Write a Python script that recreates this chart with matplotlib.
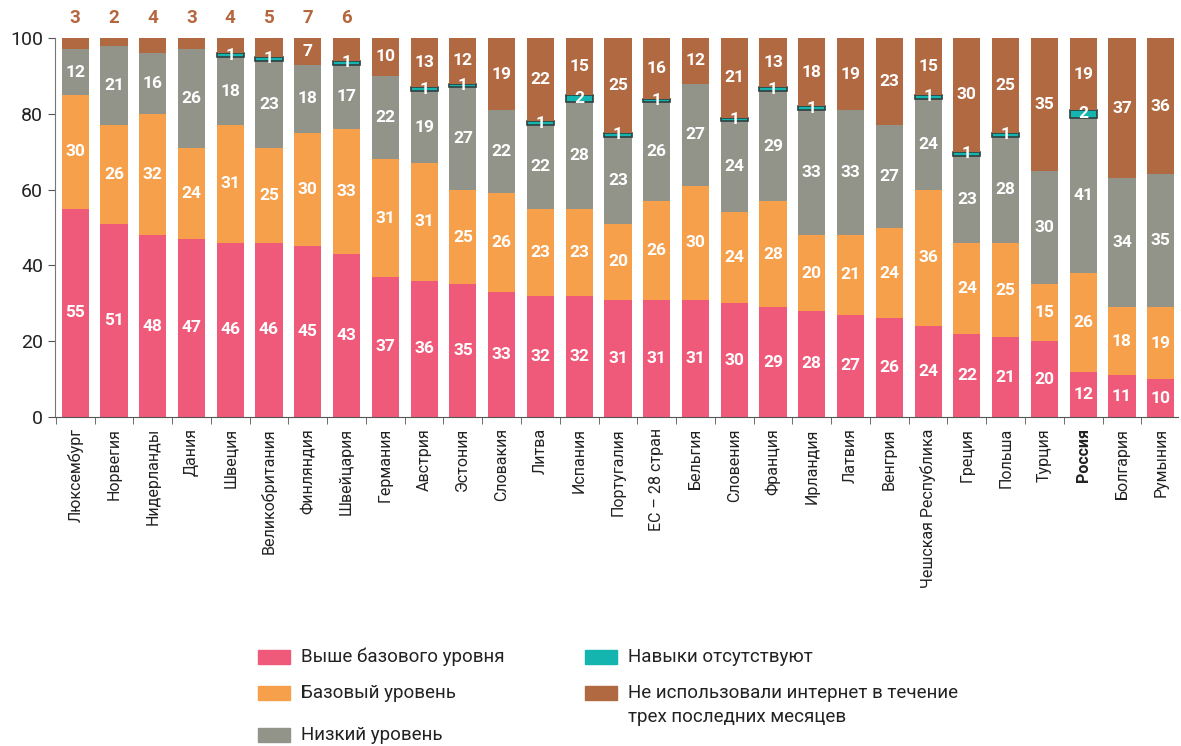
import matplotlib.pyplot as plt
from matplotlib.patches import Rectangle
import numpy as np

countries = ["Люксембург", "Норвегия", "Нидерланды", "Дания", "Швеция", "Великобритания",
             "Финляндия", "Швейцария", "Германия", "Австрия", "Эстония", "Словакия", "Литва",
             "Испания", "Португалия", "ЕС – 28 стран", "Бельгия", "Словения", "Франция",
             "Ирландия", "Латвия", "Венгрия", "Чешская Республика", "Греция", "Польша",
             "Турция", "Россия", "Болгария", "Румыния"]
above_basic = [55, 51, 48, 47, 46, 46, 45, 43, 37, 36, 35, 33, 32, 32, 31, 31, 31, 30, 29, 28, 27, 26, 24, 22, 21, 20, 12, 11, 10]
basic = [30, 26, 32, 24, 31, 25, 30, 33, 31, 31, 25, 26, 23, 23, 20, 26, 30, 24, 28, 20, 21, 24, 36, 24, 25, 15, 26, 18, 19]
low = [12, 21, 16, 26, 18, 23, 18, 17, 22, 19, 27, 22, 22, 28, 23, 26, 27, 24, 29, 33, 33, 27, 24, 23, 28, 30, 41, 34, 35]
no_skills = [0, 0, 0, 0, 1, 1, 0, 1, 0, 1, 1, 0, 1, 2, 1, 1, 0, 1, 1, 1, 0, 0, 1, 1, 1, 0, 2, 0, 0]
no_internet = [3, 2, 4, 3, 4, 5, 7, 6, 10, 13, 12, 19, 22, 15, 25, 16, 12, 21, 13, 18, 19, 23, 15, 30, 25, 35, 19, 37, 36]

series = [above_basic, basic, low, no_skills, no_internet]
names = ["Выше базового уровня", "Базовый уровень", "Низкий уровень", "Навыки отсутствуют",
         "Не использовали интернет в течение\nтрех последних месяцев"]
colors = ["#F05A7A", "#F6A04B", "#929389", "#13B5AE", "#B06941"]

plt.rcParams['font.family'] = ['Roboto', 'DejaVu Sans']

fig = plt.figure(figsize=(11.81, 7.46), dpi=100)
ax = fig.add_axes([0.0466, 0.441, 0.951, 0.508])

x = np.arange(len(countries))
bottom = np.zeros(len(countries))
for k, (vals, col) in enumerate(zip(series, colors)):
    vals = np.array(vals, dtype=float)
    if k == 3:
        lw = [1.2 if v > 0 else 0 for v in vals]
        ax.bar(x, vals, 0.7, bottom=bottom, color=col, edgecolor='#2f3f3f', linewidth=lw)
    else:
        ax.bar(x, vals, 0.7, bottom=bottom, color=col)
    for i, v in enumerate(vals):
        if v == 0:
            continue
        if k == 4 and v < 7:
            continue
        ax.text(i, bottom[i] + v / 2, f"{int(v)}", ha='center', va='center', color='white',
                fontsize=12.5, fontweight='bold')
    bottom += vals

# labels above the bars where the brown segment is too thin
for i in range(8):
    ax.text(i, 103, str(no_internet[i]), ha='center', va='bottom', color='#B5673F',
            fontsize=13.5, fontweight='bold')

ax.set_xlim(-0.52, 28.45)
ax.set_ylim(0, 100)
ax.set_yticks([0, 20, 40, 60, 80, 100])
ax.tick_params(axis='y', labelsize=14, length=5, color='#555555', labelcolor='#222222')
ax.set_xticks(x)
ax.set_xticklabels(countries, rotation=90, fontsize=11.5, color='#222222')
ax.tick_params(axis='x', length=0, pad=8)
ax.set_xticks(np.arange(-0.5, 28.5, 1), minor=True)
ax.tick_params(axis='x', which='minor', length=5, color='#555555')
for lbl in ax.get_xticklabels():
    if lbl.get_text() == "Россия":
        lbl.set_fontweight('bold')
for s in ['top', 'right']:
    ax.spines[s].set_visible(False)
ax.spines['left'].set_color('#777777')
ax.spines['bottom'].set_color('#555555')

# legend
W, H = 1181, 746
legend_pos = [(258, 657), (258, 693), (258, 735), (585, 657), (585, 693)]
for (px, py), name, col in zip(legend_pos, names, colors):
    fig.add_artist(Rectangle((px / W, 1 - (py + 7) / H), 32 / W, 14 / H,
                             transform=fig.transFigure, color=col))
    ty = py + 12 if '\n' in name else py
    fig.text((px + 43) / W, 1 - ty / H, name, fontsize=13.5, va='center',
             ha='left', color='#222222', linespacing=1.4)

fig.savefig('out.png', dpi=100)
